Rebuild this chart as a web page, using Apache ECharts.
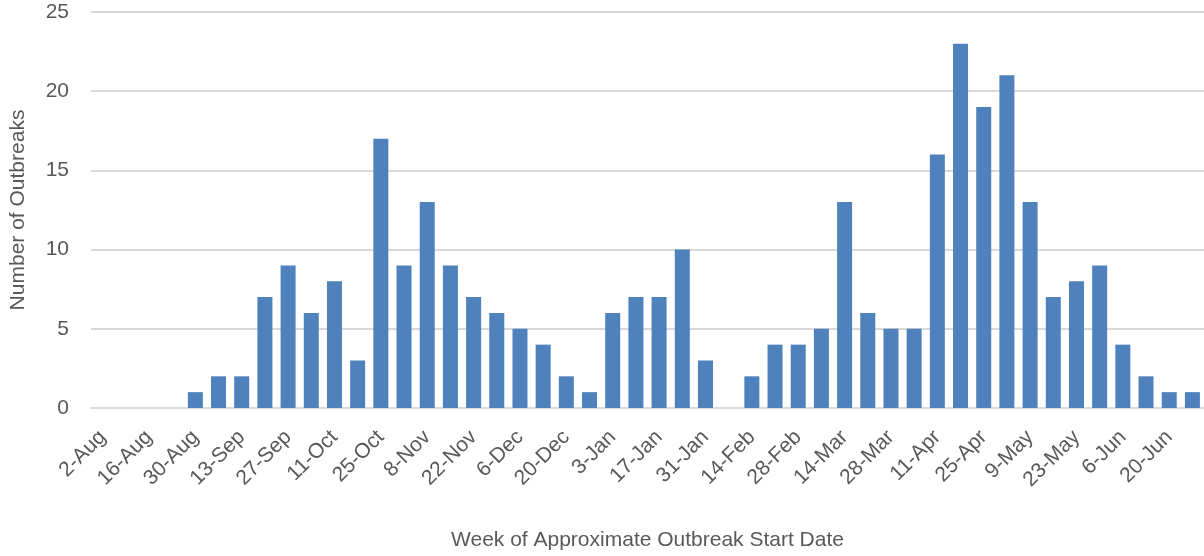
<!DOCTYPE html>
<html>
<head>
<meta charset="utf-8">
<script src="https://cdn.jsdelivr.net/npm/echarts@6/dist/echarts.min.js"></script>
<style>
  html, body { margin: 0; padding: 0; background: #fff; }
  #chart { width: 1204px; height: 556px; }
</style>
</head>
<body>
<div id="chart"></div>
<script>
  // weekly categories
  const weeks = ['2-Aug', '9-Aug', '16-Aug', '23-Aug', '30-Aug', '6-Sep', '13-Sep', '20-Sep', '27-Sep',
    '4-Oct', '11-Oct', '18-Oct', '25-Oct', '1-Nov', '8-Nov', '15-Nov', '22-Nov', '29-Nov',
    '6-Dec', '13-Dec', '20-Dec', '27-Dec', '3-Jan', '10-Jan', '17-Jan', '24-Jan', '31-Jan',
    '7-Feb', '14-Feb', '21-Feb', '28-Feb', '7-Mar', '14-Mar', '21-Mar', '28-Mar', '4-Apr',
    '11-Apr', '18-Apr', '25-Apr', '2-May', '9-May', '16-May', '23-May', '30-May', '6-Jun',
    '13-Jun', '20-Jun', '27-Jun']
  const outbreaks = [0, 0, 0, 0, 1, 2, 2, 7, 9, 6, 8, 3, 17, 9, 13, 9, 7, 6, 5, 4, 2, 1, 6, 7, 7, 10, 3,
    0, 2, 4, 4, 5, 13, 6, 5, 5, 16, 23, 19, 21, 13, 7, 8, 9, 4, 2, 1, 1]
  const yTicks = [0, 5, 10, 15, 20, 25]

  const chart = echarts.init(document.getElementById('chart'))
  const font = '"Liberation Sans", "DejaVu Sans", sans-serif'
  chart.setOption({
    animation: false,
    textStyle: { fontFamily: font },
    grid: { left: 88, right: 0, top: 12, bottom: 146, containLabel: false },
    xAxis: {
      type: 'category',
      data: weeks,
      name: 'Week of Approximate Outbreak Start Date',
      nameLocation: 'middle',
      nameGap: 122,
      nameTextStyle: { fontSize: 21, color: '#595959', fontFamily: font },
      axisLine: { lineStyle: { color: '#D9D9D9', width: 2 } },
      axisTick: { show: false },
      axisLabel: {
        interval: 1,
        rotate: 45,
        fontSize: 21,
        color: '#595959',
        margin: 26,
        fontFamily: font
      }
    },
    yAxis: {
      type: 'value',
      min: yTicks[0],
      max: yTicks[yTicks.length - 1],
      interval: 5,
      name: 'Number of Outbreaks',
      nameLocation: 'middle',
      nameGap: 62,
      nameRotate: 90,
      nameTextStyle: { fontSize: 21, color: '#595959', fontFamily: font },
      axisLine: { show: false },
      axisTick: { show: false },
      axisLabel: { fontSize: 21, color: '#595959', margin: 22, fontFamily: font },
      splitLine: { lineStyle: { color: '#D9D9D9', width: 2 } }
    },
    series: [
      {
        name: 'Outbreaks',
        type: 'bar',
        data: outbreaks,
        barWidth: 15,
        itemStyle: { color: '#4F81BD' }
      }
    ]
  })
</script>
</body>
</html>
